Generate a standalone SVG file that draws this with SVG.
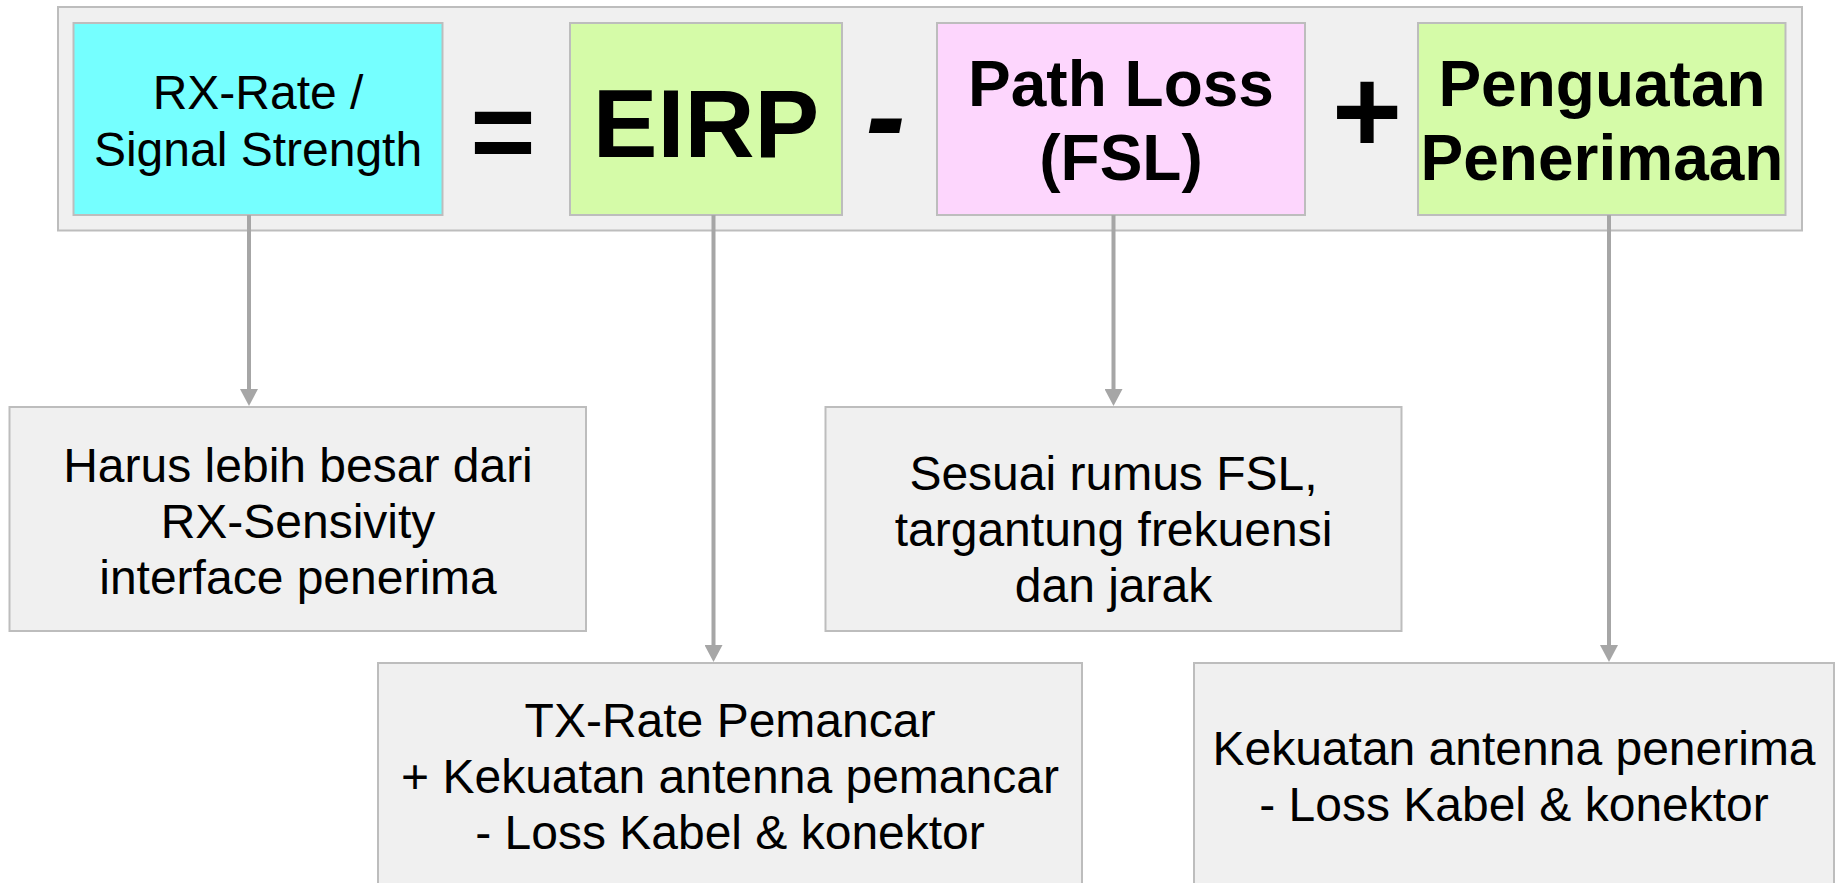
<svg xmlns="http://www.w3.org/2000/svg" width="1839" height="883" viewBox="0 0 1839 883">
<defs>
<style>
.box{stroke:#bdbdbd;stroke-width:2}
.gray{fill:#f0f0f0}
.cyan{fill:#75ffff}
.green{fill:#d5fba8}
.pink{fill:#fdd6fd}
text{font-family:"Liberation Sans",Arial,sans-serif;fill:#000;text-anchor:middle}
.t{font-size:48px}
.b{font-size:64px;font-weight:bold}
.op{font-size:120px;font-weight:bold}
.conn{stroke:#a6a6a6;stroke-width:4;fill:none}
</style>
<marker id="arr" markerUnits="userSpaceOnUse" viewBox="0 0 17 18" refX="2" refY="9" markerWidth="17" markerHeight="18" orient="auto">
<path d="M0,0 L17,9 L0,18 Z" fill="#a6a6a6"/>
</marker>
</defs>
<rect width="1839" height="883" fill="#ffffff"/>
<g id="formula">
<rect class="box gray" x="58" y="7" width="1744" height="223.5"/>
</g>
<g id="rx-rate">
<rect class="box cyan" x="73.5" y="23" width="369" height="192"/>
<text class="t" x="258" y="109">RX-Rate /</text>
<text class="t" x="258" y="166">Signal Strength</text>
</g>
<g id="op-eq"><text class="op" x="503" y="170" style="font-size:112px">=</text></g>
<g id="eirp">
<rect class="box green" x="570" y="23" width="272" height="192"/>
<text x="706" y="157" style="font-size:97px;font-weight:bold">EIRP</text>
</g>
<g id="op-minus"><text class="op" x="885.5" y="157" font-style="italic">-</text></g>
<g id="path-loss">
<rect class="box pink" x="937" y="23" width="368" height="192"/>
<text class="b" x="1121" y="106">Path Loss</text>
<text class="b" x="1121" y="180">(FSL)</text>
</g>
<g id="op-plus"><text class="op" x="1367" y="153">+</text></g>
<g id="penguatan">
<rect class="box green" x="1418" y="23" width="367.5" height="192"/>
<text class="b" x="1602" y="106">Penguatan</text>
<text class="b" x="1602" y="180">Penerimaan</text>
</g>
<g id="note-rx">
<rect class="box gray" x="9.5" y="407" width="576.5" height="224"/>
<text class="t" x="298" y="482">Harus lebih besar dari</text>
<text class="t" x="298" y="538">RX-Sensivity</text>
<text class="t" x="298" y="594">interface penerima</text>
</g>
<g id="note-fsl">
<rect class="box gray" x="825.5" y="407" width="576" height="224"/>
<text class="t" x="1113.5" y="490">Sesuai rumus FSL,</text>
<text class="t" x="1113.5" y="546">targantung frekuensi</text>
<text class="t" x="1113.5" y="602">dan jarak</text>
</g>
<g id="note-eirp">
<rect class="box gray" x="378" y="663" width="704" height="240"/>
<text class="t" x="730" y="737">TX-Rate Pemancar</text>
<text class="t" x="730" y="793">+ Kekuatan antenna pemancar</text>
<text class="t" x="730" y="849">- Loss Kabel &amp; konektor</text>
</g>
<g id="note-gain">
<rect class="box gray" x="1194" y="663" width="640" height="240"/>
<text class="t" x="1514" y="765">Kekuatan antenna penerima</text>
<text class="t" x="1514" y="821">- Loss Kabel &amp; konektor</text>
</g>
<g id="connectors">
<line class="conn" x1="249" y1="215" x2="249" y2="391" marker-end="url(#arr)"/>
<line class="conn" x1="713.5" y1="215" x2="713.5" y2="647" marker-end="url(#arr)"/>
<line class="conn" x1="1113.5" y1="215" x2="1113.5" y2="391" marker-end="url(#arr)"/>
<line class="conn" x1="1609" y1="215" x2="1609" y2="647" marker-end="url(#arr)"/>
</g>
</svg>
